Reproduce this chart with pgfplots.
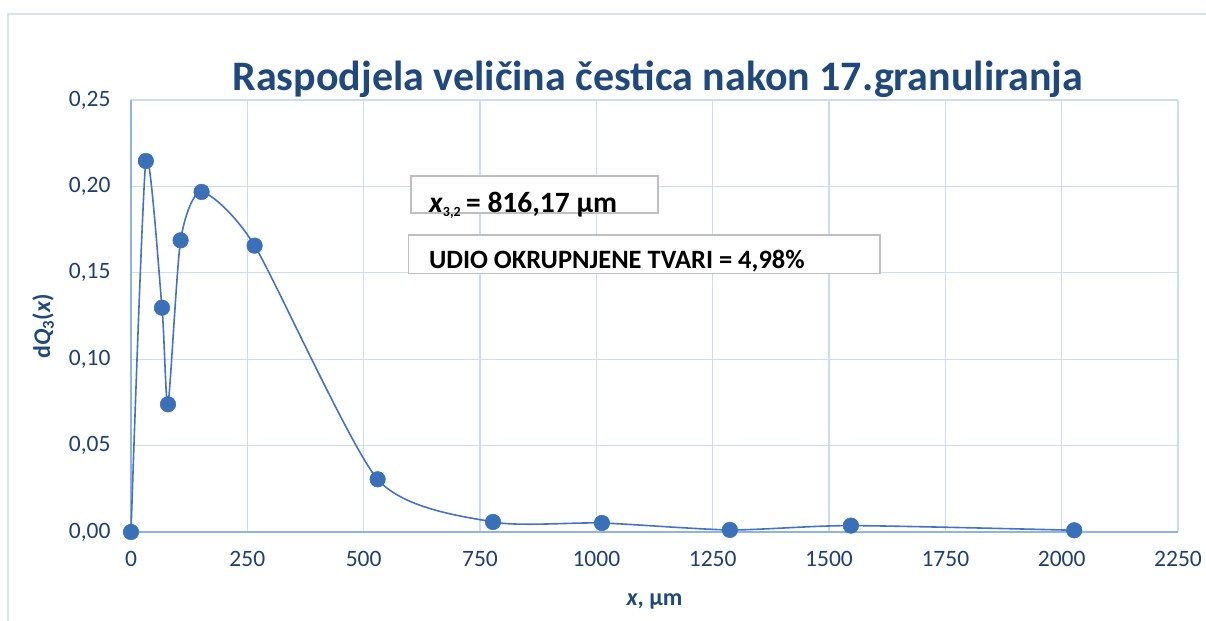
\documentclass[border=0pt]{standalone}
\usepackage{fontspec}
\setmainfont{Carlito}
\usepackage{pgfplots}
\pgfplotsset{compat=1.18}
\definecolor{titleblue}{RGB}{31,73,125}
\definecolor{tickblue}{RGB}{31,64,112}
\definecolor{gridcol}{RGB}{204,220,243}
\definecolor{axiscol}{RGB}{142,180,227}
\definecolor{framecol}{RGB}{214,226,242}
\definecolor{linecol}{RGB}{68,114,196}
\definecolor{markcol}{RGB}{58,112,184}
\definecolor{boxcol}{RGB}{191,191,191}
\begin{document}
\begin{tikzpicture}[x=1bp,y=1bp]
\path[use as bounding box] (-131,-89) rectangle (1075,532);
\draw[framecol, line width=1.5bp] (-123,-89) -- (-123,518) -- (1075,518);
\begin{axis}[
  at={(0,0)}, anchor=south west,
  scale only axis, width=1047bp, height=432bp,
  xmin=0, xmax=2250, ymin=0, ymax=0.25,
  xtick={0,250,...,2250},
  ytick={0,0.05,0.1,0.15,0.2,0.25},
  grid=major,
  major grid style={gridcol, line width=1.2bp},
  axis lines*=left,
  axis line style={-, axiscol, line width=1.5bp},
  major tick length=0pt,
  /pgf/number format/assume math mode=true,
  ticklabel style={font=\fontsize{23.5bp}{25bp}\selectfont, text=tickblue},
  xticklabel style={/pgf/number format/1000 sep={}, yshift=-16bp},
  yticklabel style={/pgf/number format/.cd, fixed, fixed zerofill, precision=2, use comma, /tikz/.cd, xshift=-17bp},
  xlabel={\textbf{\textit{x}, µm}},
  xlabel style={font=\fontsize{24bp}{26bp}\selectfont, text=titleblue, at={(axis description cs:0.5,-0.16)}, anchor=center},
  ylabel={\textbf{d\textit{Q}\textsubscript{3}(\textit{x})}},
  ylabel style={font=\fontsize{24bp}{26bp}\selectfont, text=titleblue, at={(axis description cs:-0.084,0.476)}, anchor=center},
  clip=false,
]
\addplot[linecol, line width=1.6bp, smooth, tension=0.4,
  mark=*, mark size=7.8bp, mark options={fill=markcol, draw=markcol, line width=0.5bp}]
  coordinates {
  (0,0) (32,0.2147) (66.6,0.1298) (79.5,0.0739) (106.6,0.1688) (151.7,0.1968)
  (265.6,0.1657) (530,0.0305) (778,0.0058) (1012,0.0052) (1287,0.0012)
  (1547,0.0037) (2027,0.0010)
  };
\draw[boxcol, line width=1.5bp, fill=white] (axis cs:602,0.2060) rectangle (axis cs:1133,0.1845);
\draw[boxcol, line width=1.5bp, fill=white] (axis cs:596,0.1718) rectangle (axis cs:1610,0.1497);
\node[anchor=base west, inner sep=0pt, font=\fontsize{29.5bp}{31bp}\selectfont\bfseries] at (axis cs:640,0.1850)
  {\textit{x}\textsubscript{\fontsize{14bp}{16bp}\selectfont 3,2}\,= 816,17 µm};
\node[anchor=base west, inner sep=0pt, font=\fontsize{26.5bp}{28bp}\selectfont\bfseries] at (axis cs:640,0.1523)
  {UDIO OKRUPNJENE TVARI = 4,98\%};
\node[font=\fontsize{42bp}{46bp}\selectfont\bfseries, text=titleblue, anchor=base] at (axis cs:1132,0.2555)
  {Raspodjela veličina čestica nakon 17.granuliranja};
\end{axis}
\end{tikzpicture}
\end{document}
